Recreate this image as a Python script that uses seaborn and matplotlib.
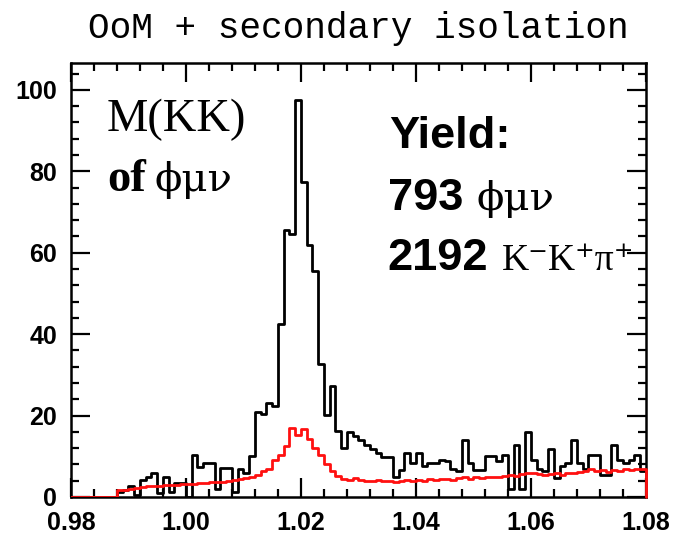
import numpy as np
import pandas as pd
import matplotlib
matplotlib.use("Agg")
import matplotlib.pyplot as plt
from matplotlib.ticker import MultipleLocator, FormatStrFormatter
import seaborn as sns

# ---- data (bin contents, bin width 0.001 from 0.980 to 1.080) ----
bin_edges = [round(0.980 + 0.001 * i, 3) for i in range(101)]
black_counts = [
    0, 0, 0, 0, 0, 0, 0, 0,
    1.3, 1.6, 2.7, 0.6, 4.2, 5.0, 6.0, 1.0,
    5.0, 1.2, 3.5, 3.5, 0, 10.2, 7.3, 8.3,
    8.3, 2.0, 7.1, 7.1, 1.3, 7.0, 6.0, 10.0,
    21.0, 20.5, 23.0, 22.3, 42.5, 65.5, 64.5, 97.4,
    77.4, 61.8, 55.6, 32.6, 20.2, 27.2, 16.1, 12.0,
    16.0, 14.9, 13.9, 12.8, 11.8, 10.9, 9.8, 9.8,
    5.0, 6.7, 10.9, 8.3, 10.7, 7.5, 8.3, 8.3,
    9.0, 8.8, 7.0, 6.3, 13.9, 8.3, 6.6, 6.6,
    10.1, 10.1, 8.8, 10.3, 2.0, 12.8, 2.0, 15.9,
    9.2, 7.0, 6.3, 11.8, 4.6, 7.5, 8.3, 13.9,
    8.3, 7.0, 10.4, 10.4, 5.4, 5.4, 12.8, 9.2,
    8.3, 9.2, 10.4, 6.5,
]
red_counts = [
    0, 0, 0, 0, 0, 0, 0, 0,
    1.6, 1.8, 2.0, 2.3, 2.5, 2.6, 2.7, 2.8,
    2.9, 3.0, 3.0, 3.1, 3.2, 3.3, 3.5, 3.5,
    3.6, 3.7, 3.8, 4.0, 4.2, 4.4, 4.6, 5.0,
    5.5, 6.3, 7.0, 9.0, 10.3, 12.5, 17.0, 15.3,
    16.6, 14.2, 12.0, 10.2, 8.1, 6.5, 5.2, 4.4,
    4.2, 4.6, 4.2, 4.0, 4.0, 4.2, 4.0, 4.0,
    3.8, 4.0, 4.2, 4.0, 4.2, 4.0, 4.4, 4.2,
    4.3, 4.4, 4.2, 4.6, 5.0, 4.5, 4.8, 4.6,
    5.0, 5.0, 4.8, 5.2, 5.4, 5.2, 5.6, 5.8,
    6.0, 5.6, 5.4, 5.6, 5.8, 5.4, 6.0, 5.8,
    6.2, 6.4, 6.8, 6.4, 6.6, 6.2, 6.6, 6.4,
    6.8, 6.6, 7.0, 6.8,
]
x_ticks = [0.98, 1.00, 1.02, 1.04, 1.06, 1.08]
y_ticks = [0, 20, 40, 60, 80, 100]

title_text = "OoM + secondary isolation"

edges_arr = np.array(bin_edges)
centers = (edges_arr[:-1] + edges_arr[1:]) / 2
df = pd.DataFrame({"mkk": centers, "black": black_counts, "red": red_counts})

sns.set_theme(style="ticks")
plt.rcParams["font.family"] = ["Liberation Sans", "DejaVu Sans"]
for key in ["text.color", "axes.labelcolor", "xtick.color", "ytick.color",
            "axes.edgecolor", "xtick.labelcolor", "ytick.labelcolor"]:
    plt.rcParams[key] = "black"

fig = plt.figure(figsize=(6.81, 5.37), dpi=100)
ax = fig.add_axes([71 / 681, 40 / 537, 575 / 681, 434 / 537])

sns.histplot(data=df, x="mkk", weights="black", bins=bin_edges, element="step",
             fill=False, color="black", linewidth=2.0, ax=ax, zorder=3)
sns.histplot(data=df, x="mkk", weights="red", bins=bin_edges, element="step",
             fill=False, color="#ff1010", linewidth=2.0, ax=ax, zorder=4)
# closing drop of the red histogram at the upper edge
ax.plot([bin_edges[-1], bin_edges[-1]], [red_counts[-1], 0], color="#ff1010",
        linewidth=2.0, zorder=5, clip_on=False)

ax.set_xlim(bin_edges[0], bin_edges[-1])
ax.set_ylim(0, 106.6)
ax.set_xlabel("")
ax.set_ylabel("")
ax.set_xticks(x_ticks)
ax.set_yticks(y_ticks)
ax.xaxis.set_major_formatter(FormatStrFormatter("%.2f"))
ax.xaxis.set_minor_locator(MultipleLocator(0.004))
ax.yaxis.set_minor_locator(MultipleLocator(4))
ax.tick_params(which="both", direction="in", top=True, right=True,
               width=1.6, color="black", labelcolor="black")
ax.tick_params(which="major", length=14, labelsize=18)
ax.tick_params(axis="x", which="major", pad=10)
ax.tick_params(axis="y", which="major", pad=10)
ax.tick_params(which="minor", length=5.5)
for lab in ax.get_xticklabels() + ax.get_yticklabels():
    lab.set_fontweight("bold")
    lab.set_family(["Liberation Sans", "DejaVu Sans"])
for sp in ax.spines.values():
    sp.set_linewidth(1.8)
    sp.set_color("black")
    sp.set_visible(True)

fig.text(358 / 681, 1 - 29 / 537, title_text, ha="center", va="center",
         fontsize=26, color="black",
         family=["Liberation Mono", "DejaVu Sans Mono"])

serif = ["Liberation Serif", "DejaVu Serif"]
greek = ["DejaVu Serif"]
sans = ["Liberation Sans", "DejaVu Sans"]

def ax_pos(px, py):
    return ((px - 71) / 575, (497 - py) / 434)

t_mkk = ax.text(*ax_pos(107, 131), "M(KK)", transform=ax.transAxes,
                ha="left", va="baseline", fontsize=33.5, family=serif)
t_of = ax.text(*ax_pos(107, 191), "of", transform=ax.transAxes,
               ha="left", va="baseline", fontsize=33.5, family=serif,
               fontweight="bold")
t_y = ax.text(*ax_pos(389, 148), "Yield:", transform=ax.transAxes,
              ha="left", va="baseline", fontsize=32.5, family=sans,
              fontweight="bold")
t_793 = ax.text(*ax_pos(388, 210), "793", transform=ax.transAxes,
                ha="left", va="baseline", fontsize=32.5, family=sans,
                fontweight="bold")
t_2192 = ax.text(*ax_pos(387, 270), "2192", transform=ax.transAxes,
                 ha="left", va="baseline", fontsize=32.5, family=sans,
                 fontweight="bold")

fig.canvas.draw()
renderer = fig.canvas.get_renderer()
inv = ax.transAxes.inverted()

def after(t, gap_px, s, size, fam, weight="normal"):
    bb = t.get_window_extent(renderer)
    xa = inv.transform((bb.x1 + gap_px, 0))[0]
    ya = t.get_position()[1]
    return ax.text(xa, ya, s, transform=ax.transAxes, ha="left", va="baseline",
                   fontsize=size, family=fam, fontweight=weight)

after(t_of, 9, "\u03d5\u03bc\u03bd", 29, greek)
after(t_793, 13, "\u03d5\u03bc\u03bd", 29, greek)
after(t_2192, 14, "K\u207bK\u207a\u03c0\u207a", 27, serif)

fig.savefig("out.png", dpi=100)
